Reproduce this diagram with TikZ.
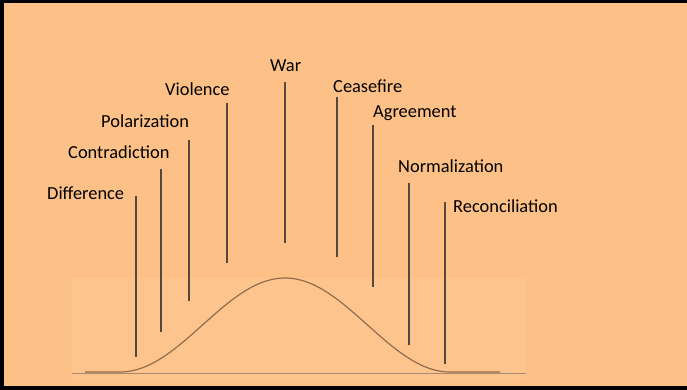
\documentclass[tikz,border=0pt]{standalone}
\usepackage{fontspec}
\setmainfont{Carlito}
\usetikzlibrary{positioning}
\definecolor{peach}{RGB}{253, 193, 135}
\definecolor{peachlight}{RGB}{253, 197, 141}
\definecolor{stemgrey}{RGB}{85, 72, 60}
\definecolor{curvebrown}{RGB}{145, 108, 76}

\begin{document}
\begin{tikzpicture}[
        x=1pt, y=-1pt,
        phase/.style={anchor=base west, inner sep=0pt, text=black, font=\fontsize{18.4}{20}\selectfont},
        stem/.style={draw=stemgrey, line width=1.2pt},
        bell/.style={draw=curvebrown, line width=1.2pt},
        axis/.style={draw=curvebrown!80, line width=0.9pt}
    ]
        % Background and frame
        \useasboundingbox (0,0) rectangle (687,390);
        \fill[peach] (0,0) rectangle (687,390);
        \fill[peachlight] (72,278) rectangle (526,380);
        \fill[black] (0,0) rectangle (687,3);
        \fill[black] (0,0) rectangle (4,390);
        \fill[black] (0,386) rectangle (687,390);

        % Phase labels
        \node (difference) [phase] at (47,199) {Difference};
        \node (contradiction) [phase] at (68,158) {Contradiction};
        \node (polarization) [phase] at (101,128) {Polarization};
        \node (violence) [phase] at (165,96) {Violence};
        \node (war) [phase] at (270,72) {War};
        \node (ceasefire) [phase] at (333,93) {Ceasefire};
        \node (agreement) [phase] at (373,118) {Agreement};
        \node (normalization) [phase] at (398,172) {Normalization};
        \node (reconciliation) [phase] at (453,212) {Reconciliation};

        % Stems
        \foreach \n/\x/\t/\b in {dif/136/196/357, con/161/169/332, pol/189/140/301,
                vio/227/103/263, war/285/82/243, cea/337/97/257, agr/373/125/287,
                nor/409/183/345, rec/445/202/364} {
            \coordinate (\n T) at (\x,\t);
            \coordinate (\n B) at (\x,\b);
            \draw [stem] (\n T) -- (\n B);
        }

        % Axis and curve
        \coordinate (axisL) at (72,373);
        \coordinate (axisR) at (526,373);
        \draw [axis] (axisL) -- (axisR);
        \coordinate (bellL) at (85,372);
        \coordinate (bellR) at (500,372);
        \draw [bell] (bellL) -- (120,372)
            plot[domain=-165:165, samples=90] ({285+\x},{372-47*(1+cos(\x/165*180))})
            -- (bellR);
    \end{tikzpicture}
\end{document}
